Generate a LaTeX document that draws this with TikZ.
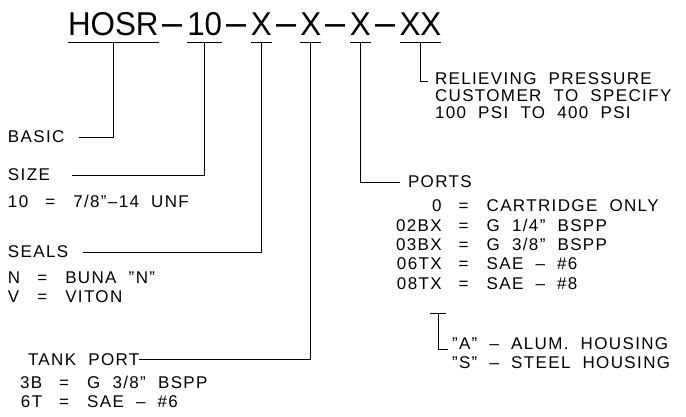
\documentclass[tikz,border=0pt]{standalone}
\usepackage{fontspec}
\setmainfont{Liberation Sans}
\newfontfamily\cadfont{Liberation Sans}[LetterSpace=8,WordSpace=2]
\newfontfamily\titlefont{Liberation Sans}[FakeStretch=0.95]
\usetikzlibrary{positioning}
\newcommand{\eqcol}{\hspace{14pt}\makebox[16pt]{=}\hspace{15pt}}

\begin{document}
\begin{tikzpicture}[x=1pt, y=-1pt, line width=1pt,
    every node/.style={inner sep=0pt, outer sep=0pt},
    part/.style={font=\titlefont\fontsize{33}{33}\selectfont},
    sep/.style={font=\titlefont\fontsize{38}{38}\selectfont},
    lbl/.style={font=\cadfont\fontsize{17}{19.4}\selectfont, align=left}]
    \useasboundingbox (0,0) rectangle (686,417);

    % model code
    \node[part, anchor=base west] (hosr) at (68,36) {HOSR};
    \node[sep] (d1) [base right=4.3pt of hosr] {–};
    \node[part] (size10) [base right=4.3pt of d1] {10};
    \node[sep] (d2) [base right=4.3pt of size10] {–};
    \node[part] (xseal) [base right=4.3pt of d2] {X};
    \node[sep] (d3) [base right=4.3pt of xseal] {–};
    \node[part] (xtank) [base right=4.3pt of d3] {X};
    \node[sep] (d4) [base right=4.3pt of xtank] {–};
    \node[part] (xport) [base right=4.3pt of d4] {X};
    \node[sep] (d5) [base right=4.3pt of xport] {–};
    \node[part] (xrelief) [base right=4.3pt of d5] {XX};

    % underlines
    \foreach \p in {hosr, size10, xseal, xtank, xport, xrelief} {
        \draw ([yshift=-7pt]\p.base west) -- ([yshift=-7pt]\p.base east);
        \coordinate (\p-t) at ([yshift=-7pt]\p.base);
    }

    % left column
    \node[lbl, anchor=base west] (basic) at (8,143) {BASIC};
    \node[lbl, anchor=base west] (size) at (8,181) {SIZE};
    \node[lbl] (sizeval) [below=14.5pt of size.south west, anchor=north west]
        {10\eqcol 7/8”–14 UNF};
    \node[lbl, anchor=base west] (seals) at (8,258) {SEALS};
    \node[lbl] (sealval) [below=11.5pt of seals.south west, anchor=north west]
        {\begin{tabular}{@{}l@{\eqcol}l@{}}
            N & BUNA ”N”\\
            V & VITON
        \end{tabular}};
    \node[lbl, anchor=base west] (tank) at (28,365) {TANK PORT};
    \node[lbl] (tankval) [below=9.5pt of tank.south west, anchor=north west, xshift=-8pt]
        {\begin{tabular}{@{}r@{\eqcol}l@{}}
            3B & G 3/8” BSPP\\
            6T & SAE – \#6
        \end{tabular}};

    % right column
    \node[lbl, anchor=north west, font=\cadfont\fontsize{17}{17}\selectfont] (relief) at (435,73)
        {RELIEVING PRESSURE\\CUSTOMER TO SPECIFY\\100 PSI TO 400 PSI};
    \node[lbl, anchor=base west] (ports) at (408,188) {PORTS};
    \node[lbl] (portval) [below=10pt of ports.south west, anchor=north west, xshift=-12pt]
        {\begin{tabular}{@{}r@{\eqcol}l@{}}
            0 & CARTRIDGE ONLY\\
            02BX & G 1/4” BSPP\\
            03BX & G 3/8” BSPP\\
            06TX & SAE – \#6\\
            08TX & SAE – \#8
        \end{tabular}};
    \coordinate (housing-t) at (438,313);
    \node[lbl, anchor=base west] (alum) at (452,349) {”A” – ALUM. HOUSING};
    \node[lbl, anchor=base west] (steel) at (452,368) {”S” – STEEL HOUSING};

    % leaders
    \draw ([xshift=15pt]basic.east) -| (hosr-t);
    \draw ([xshift=22pt]size.east) -| (size10-t);
    \draw ([xshift=15pt]seals.east) -| (xseal-t);
    \draw (tank.east) -| (xtank-t);
    \draw ([xshift=-8pt]ports.west) -| (xport-t);
    \draw ([xshift=-7pt, yshift=-9pt]relief.north west) -| (xrelief-t);
    \draw ([xshift=-8pt]housing-t) -- ([xshift=8pt]housing-t);
    \draw (housing-t) |- ([xshift=-4pt]alum.base west);
\end{tikzpicture}
\end{document}
